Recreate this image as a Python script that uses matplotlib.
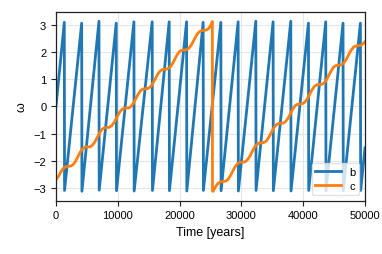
import matplotlib
matplotlib.use("Agg")
import matplotlib.pyplot as plt

# blue: fast angle, sawtooth vertices
peak_t = [1342, 4155, 6951, 9748, 12609, 15567, 18315, 21128, 23812,
          26673, 29470, 32331, 35128, 37989, 40850, 43647, 46444, 49256]
peak_w = [3.10, 3.07, 3.14, 3.07, 3.12, 3.12, 3.12, 3.12, 3.10,
          3.10, 3.12, 3.14, 3.12, 3.14, 3.07, 3.12, 3.07, 3.07]
trough_t = [1382, 4195, 6991, 9788, 12649, 15607, 18355, 21168, 23852,
            26713, 29510, 32371, 35168, 38029, 40890, 43687, 46484, 49296]
trough_w = [-3.10, -3.13, -3.09, -3.11, -3.12, -3.10, -3.11, -3.12, -3.10,
            -3.11, -3.12, -3.10, -3.11, -3.12, -3.10, -3.11, -3.12, -3.10]
start_b = (0, 0.0)
end_b = (50000, -1.53)

# orange: slow angle with wiggles
orange_t = [0, 428, 818, 1209, 1599,
            1990, 2381, 2771, 3162, 3553, 3943, 4334, 4724,
            5115, 5506, 5896, 6287, 6678, 7068, 7459, 7849,
            8240, 8631, 9021, 9412, 9803, 10193, 10584, 10974,
            11365, 11756, 12146, 12537, 12928, 13318, 13709, 14099,
            14490, 14881, 15271, 15662, 16053, 16443, 16834, 17224,
            17615, 18006, 18396, 18787, 19178, 19568, 19959, 20349,
            20740, 21131, 21521, 21912, 22303, 22693, 23084, 23474,
            23865, 24256, 24646, 25037, 25300, 25320, 25428, 25818, 26209, 26599,
            26990, 27381, 27771, 28162, 28553, 28943, 29334, 29724,
            30115, 30506, 30896, 31287, 31678, 32068, 32459, 32849,
            33240, 33631, 34021, 34412, 34803, 35193, 35584, 35974,
            36365, 36756, 37146, 37537, 37928, 38318, 38709, 39099,
            39490, 39881, 40271, 40662, 41053, 41443, 41834, 42224,
            42615, 43006, 43396, 43787, 44178, 44568, 44959, 45349,
            45740, 46131, 46521, 46912, 47303, 47693, 48084, 48474,
            48865, 49256, 49646, 50000]
orange_w = [-2.70, -2.57, -2.40, -2.28, -2.22,
            -2.21, -2.20, -2.15, -2.02, -1.85, -1.68, -1.56, -1.50,
            -1.49, -1.49, -1.43, -1.31, -1.14, -0.97, -0.84, -0.79,
            -0.78, -0.77, -0.71, -0.59, -0.42, -0.25, -0.13, -0.07,
            -0.06, -0.06, 0.00, 0.12, 0.29, 0.46, 0.59, 0.64,
            0.65, 0.66, 0.72, 0.84, 1.01, 1.18, 1.30, 1.36,
            1.37, 1.38, 1.43, 1.55, 1.72, 1.89, 2.02, 2.07,
            2.08, 2.09, 2.15, 2.27, 2.44, 2.61, 2.73, 2.79,
            2.80, 2.81, 2.86, 2.98, 3.13, -3.13, -3.13, -2.96, -2.84, -2.78,
            -2.77, -2.76, -2.71, -2.58, -2.41, -2.24, -2.12, -2.06,
            -2.06, -2.05, -1.99, -1.87, -1.70, -1.53, -1.41, -1.35,
            -1.34, -1.33, -1.28, -1.15, -0.98, -0.81, -0.69, -0.63,
            -0.62, -0.62, -0.56, -0.44, -0.27, -0.10, 0.03, 0.08,
            0.09, 0.10, 0.16, 0.28, 0.45, 0.62, 0.74, 0.80,
            0.81, 0.81, 0.87, 0.99, 1.16, 1.33, 1.46, 1.51,
            1.52, 1.53, 1.59, 1.71, 1.88, 2.05, 2.17, 2.23,
            2.24, 2.25, 2.30, 2.38]

blue_t = [start_b[0]]
blue_w = [start_b[1]]
for pt, pw, tt, tw in zip(peak_t, peak_w, trough_t, trough_w):
    blue_t += [pt, tt]
    blue_w += [pw, tw]
blue_t.append(end_b[0])
blue_w.append(end_b[1])

plt.rcParams['font.family'] = ['Liberation Sans', 'DejaVu Sans']

fig = plt.figure(figsize=(3.82, 2.55), dpi=100)
ax = fig.add_axes([56 / 382, 1 - 201.5 / 255, 309 / 382, 188.2 / 255])

ax.plot(blue_t, blue_w, color='#1f77b4', lw=2.0, label='b')
ax.plot(orange_t, orange_w, color='#ff7f0e', lw=2.0, label='c')

ax.set_xlim(0, 50000)
ax.set_ylim(-3.47, 3.47)
ax.set_xticks([0, 10000, 20000, 30000, 40000, 50000])
ax.set_yticks([-3, -2, -1, 0, 1, 2, 3])
ax.set_yticklabels(['\u22123', '\u22122', '\u22121', '0', '1', '2', '3'])
ax.grid(True, color='#e6e6e6', lw=0.8)
ax.set_axisbelow(True)
ax.tick_params(labelsize=8, length=3.5, width=0.8, pad=3.5, color='#222222')
for s in ax.spines.values():
    s.set_color('#222222')
    s.set_linewidth(0.9)

ax.set_xlabel('Time [years]', fontsize=9, labelpad=4)
ax.set_ylabel('\u03c9', fontsize=9)

ax.legend(loc='lower right', fontsize=8, handlelength=2.3, handletextpad=0.75,
          labelspacing=0.4, borderpad=0.35, framealpha=0.8,
          edgecolor='#dddddd', borderaxespad=0.5)

fig.savefig('out.png', dpi=100)
